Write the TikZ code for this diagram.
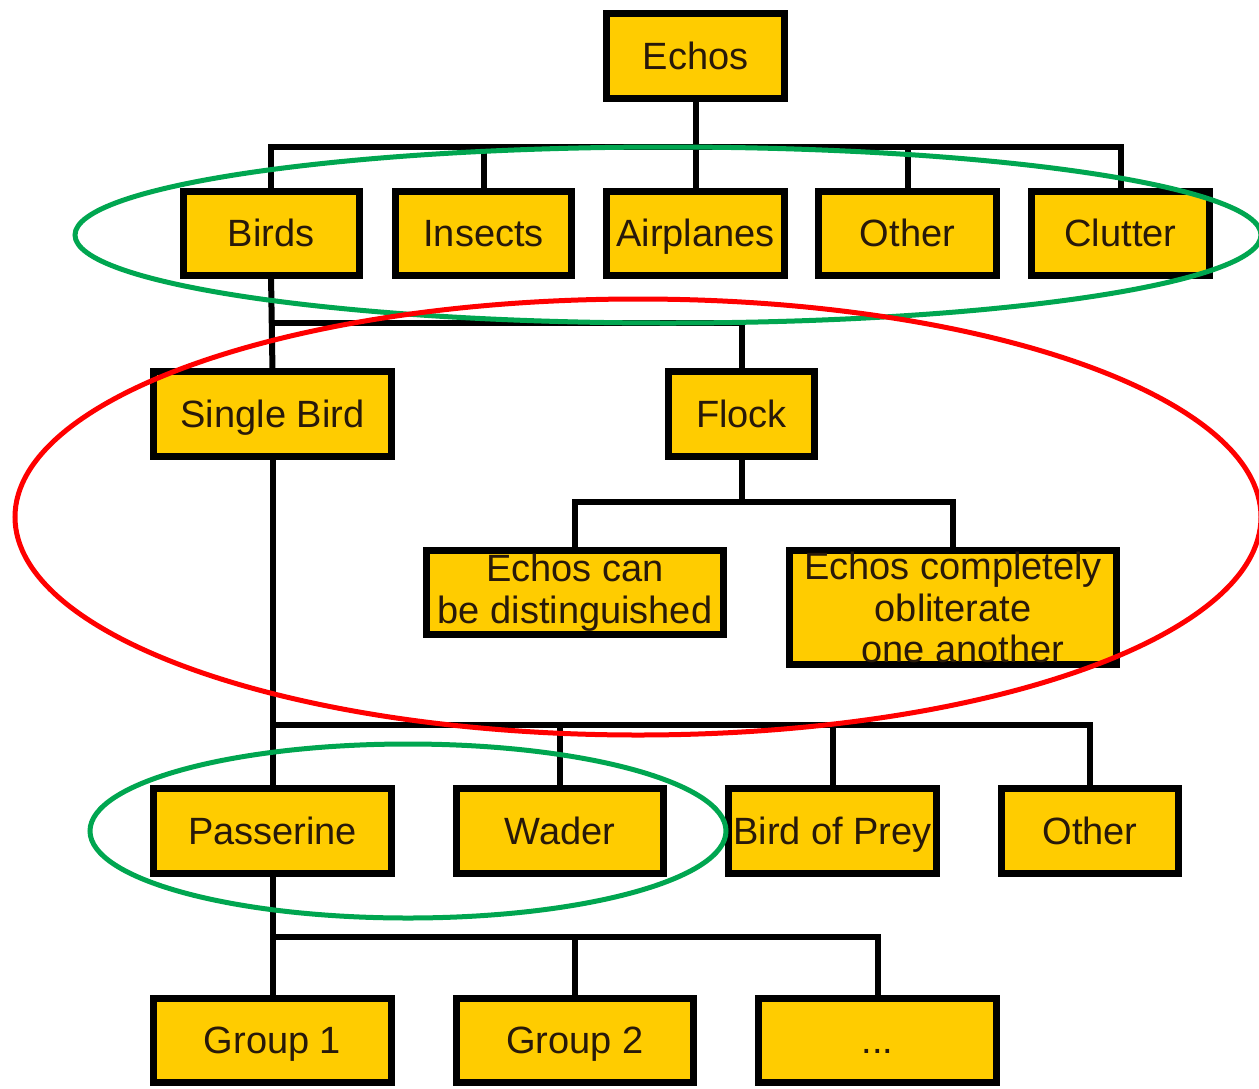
\documentclass[tikz,border=0pt]{standalone}
\usepackage{fontspec}
\setmainfont{Liberation Sans}
\definecolor{boxfill}{RGB}{255,204,0}
\definecolor{boxtext}{RGB}{40,25,10}
\definecolor{ringgreen}{RGB}{0,166,80}
\definecolor{ringred}{RGB}{255,0,0}
\begin{document}
\begin{tikzpicture}[x=1pt,y=-1pt,
  box/.style={draw=black, line width=7pt, fill=boxfill, text=boxtext,
    inner sep=0pt, outer sep=0pt, align=center,
    font=\fontsize{38}{41.5}\selectfont, minimum height=84pt},
  sbox/.style={box, text height=35.6pt, text depth=8.4pt},
  link/.style={draw=black, line width=6pt, line join=miter},
  ring/.style={line width=5pt}]
\useasboundingbox (0,0) rectangle (1259,1088);
\clip (0,0) rectangle (1259,1088);
% row 0
\node[sbox, minimum width=178pt, minimum height=85pt] (echos) at (695.5,56) {Echos};
% row 1
\node[sbox, minimum width=176pt] (birds) at (271,233) {Birds};
\node[sbox, minimum width=176pt] (insects) at (483.5,233) {Insects};
\node[sbox, minimum width=178pt] (airplanes) at (695.5,233) {Airplanes};
\node[sbox, minimum width=178pt] (other1) at (907.5,233) {Other};
\node[sbox, minimum width=178pt] (clutter) at (1120.5,233) {Clutter};
% row 2
\node[sbox, minimum width=238pt, minimum height=85pt] (single) at (272.5,414) {Single Bird};
\node[sbox, minimum width=146pt, minimum height=85pt] (flock) at (741.5,414) {Flock};
% row 3
\node[box, minimum width=297pt] (dist) at (575,592.5) {Echos can\\be distinguished};
\node[box, minimum width=327pt, minimum height=114pt] (oblit) at (953,607.5) {Echos completely\\obliterate\\\hspace*{20pt}one another};
% row 4
\node[sbox, minimum width=238pt, minimum height=85pt] (passerine) at (272.5,831) {Passerine};
\node[sbox, minimum width=207pt, minimum height=85pt] (wader) at (560,831) {Wader};
\node[sbox, minimum width=208pt, minimum height=85pt] (prey) at (832.5,831) {Bird of Prey};
\node[sbox, minimum width=177pt, minimum height=85pt] (other2) at (1090,831) {Other};
% row 5
\node[sbox, minimum width=238pt] (group1) at (272.5,1040) {Group 1};
\node[sbox, minimum width=237pt] (group2) at (575,1040) {Group 2};
\node[sbox, minimum width=238pt] (more) at (877.5,1040) {...};
% junctions
\coordinate (j1) at (695.5,147);
\coordinate (j2) at (272,323);
\coordinate (j3) at (741.5,502);
\coordinate (j4) at (272,725);
\coordinate (j5) at (272,937);
% connectors
\draw[link] (echos.south) -- (j1);
\draw[link] (birds.north) |- (j1) -| (clutter.north);
\draw[link] (insects.north) -- (insects.north |- j1);
\draw[link] (airplanes.north) -- (j1);
\draw[link] (other1.north) -- (other1.north |- j1);
\draw[link] (birds.south) -- (single.north);
\draw[link] (j2) -| (flock.north);
\draw[link] (flock.south) -- (j3);
\draw[link] (dist.north) |- (j3) -| (oblit.north);
\draw[link] (single.south) -- (passerine.north);
\draw[link] (j4) -| (other2.north);
\draw[link] (wader.north) -- (wader.north |- j4);
\draw[link] (prey.north) -- (prey.north |- j4);
\draw[link] (passerine.south) -- (group1.north);
\draw[link] (j5) -| (more.north);
\draw[link] (group2.north) -- (group2.north |- j5);
% rings
\draw[ring, ringgreen] (668,235) ellipse [x radius=593, y radius=88];
\draw[ring, ringred] (638,517) ellipse [x radius=623, y radius=218];
\draw[ring, ringgreen] (408,831) ellipse [x radius=318, y radius=87];
\end{tikzpicture}
\end{document}
